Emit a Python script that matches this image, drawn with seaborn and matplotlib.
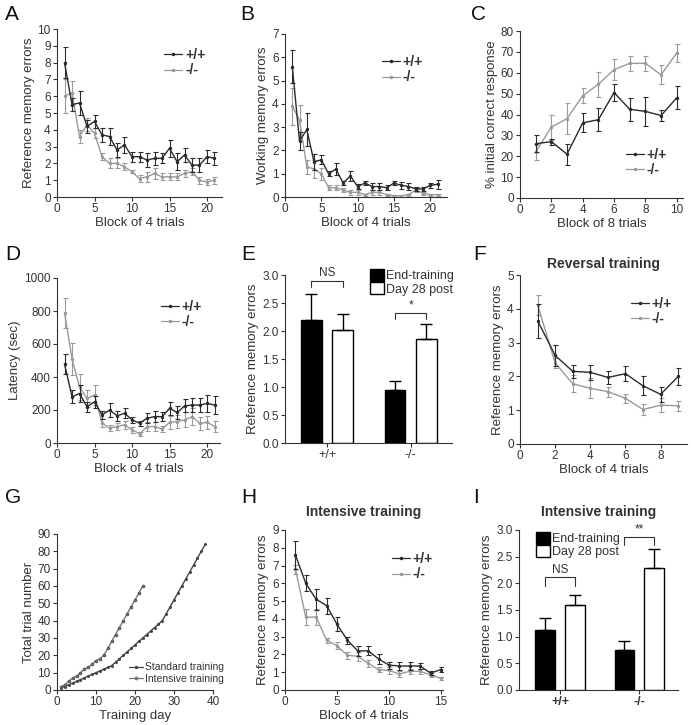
import matplotlib
matplotlib.use("Agg")
import matplotlib.pyplot as plt
import seaborn as sns
import pandas as pd
from matplotlib.patches import Patch
from matplotlib.lines import Line2D

# ---- data ----
blocks21 = list(range(1, 22))
blocks10 = list(range(1, 11))
blocks9 = list(range(1, 10))
blocks15 = list(range(1, 16))

A_wt = [8.0, 5.5, 5.6, 4.2, 4.5, 3.7, 3.6, 2.8, 3.1, 2.4, 2.4, 2.2, 2.3, 2.3, 2.9, 2.1, 2.5, 1.9, 1.9, 2.4, 2.3]
A_wt_err = [0.9, 0.4, 0.7, 0.4, 0.4, 0.4, 0.5, 0.4, 0.5, 0.3, 0.3, 0.4, 0.4, 0.3, 0.5, 0.5, 0.4, 0.4, 0.4, 0.4, 0.4]
A_ko = [6.0, 6.2, 3.6, 4.3, 3.8, 2.4, 2.0, 2.0, 1.8, 1.5, 1.1, 1.2, 1.4, 1.2, 1.2, 1.2, 1.4, 1.5, 1.0, 0.9, 1.0]
A_ko_err = [1.0, 0.7, 0.4, 0.4, 0.3, 0.2, 0.3, 0.3, 0.2, 0.1, 0.2, 0.3, 0.3, 0.2, 0.2, 0.2, 0.2, 0.2, 0.2, 0.2, 0.2]

B_wt = [5.6, 2.4, 2.9, 1.5, 1.6, 1.0, 1.2, 0.6, 0.9, 0.45, 0.6, 0.45, 0.45, 0.4, 0.6, 0.5, 0.45, 0.35, 0.35, 0.5, 0.55]
B_wt_err = [0.7, 0.4, 0.7, 0.35, 0.2, 0.1, 0.25, 0.1, 0.2, 0.1, 0.1, 0.15, 0.15, 0.1, 0.1, 0.15, 0.15, 0.1, 0.1, 0.1, 0.2]
B_ko = [3.9, 3.3, 1.3, 1.2, 1.0, 0.4, 0.4, 0.3, 0.2, 0.2, 0.1, 0.2, 0.2, 0.1, 0.05, 0.05, 0.1, 0.3, 0.15, 0.1, 0.1]
B_ko_err = [0.8, 0.65, 0.3, 0.4, 0.25, 0.1, 0.1, 0.1, 0.1, 0.1, 0.05, 0.1, 0.1, 0.05, 0.03, 0.03, 0.05, 0.1, 0.05, 0.05, 0.05]

C_wt = [26, 27, 21, 36, 37.5, 50.5, 42.5, 41.5, 39.5, 48]
C_wt_err = [4, 1.5, 5, 4.5, 5.5, 4, 5.5, 7, 2.5, 5.5]
C_ko = [22, 34, 38, 49, 54.5, 61.5, 64.5, 64.5, 59, 69.5]
C_ko_err = [4, 6, 7.5, 3.5, 6, 5, 3.5, 3.5, 4.5, 4.5]

D_wt = [480, 280, 300, 220, 250, 170, 200, 165, 180, 140, 120, 150, 160, 160, 210, 185, 225, 230, 230, 240, 230]
D_wt_err = [60, 40, 50, 30, 35, 25, 40, 30, 30, 20, 15, 30, 35, 25, 40, 40, 40, 45, 45, 50, 55]
D_ko = [790, 510, 340, 270, 290, 120, 90, 100, 110, 80, 55, 100, 100, 85, 125, 130, 140, 160, 120, 125, 100]
D_ko_err = [90, 95, 80, 50, 60, 25, 20, 20, 25, 20, 10, 25, 30, 20, 40, 40, 45, 50, 40, 40, 35]

F_wt = [3.65, 2.62, 2.15, 2.12, 1.97, 2.08, 1.72, 1.47, 2.0]
F_wt_err = [0.5, 0.3, 0.2, 0.22, 0.2, 0.22, 0.28, 0.23, 0.25]
F_ko = [4.12, 2.4, 1.78, 1.65, 1.55, 1.35, 1.02, 1.15, 1.13]
F_ko_err = [0.3, 0.15, 0.25, 0.3, 0.15, 0.13, 0.15, 0.2, 0.15]

H_wt = [7.6, 6.0, 5.1, 4.75, 3.7, 2.8, 2.2, 2.2, 1.75, 1.4, 1.35, 1.35, 1.35, 0.95, 1.15]
H_wt_err = [0.8, 0.45, 0.6, 0.45, 0.4, 0.2, 0.3, 0.25, 0.3, 0.2, 0.2, 0.2, 0.15, 0.1, 0.15]
H_ko = [6.8, 4.1, 4.1, 2.8, 2.5, 1.95, 1.9, 1.5, 1.15, 1.1, 0.9, 1.05, 1.05, 0.85, 0.65]
H_ko_err = [0.25, 0.45, 0.45, 0.15, 0.2, 0.2, 0.25, 0.2, 0.15, 0.2, 0.15, 0.15, 0.15, 0.1, 0.1]

G_std_days = list(range(1, 39))
G_std_trials = [1, 2, 3, 4, 5, 6, 7, 8, 9, 10, 11, 12, 13, 14,
                16, 18, 20, 22, 24, 26, 28, 30, 32, 34, 36, 38, 40,
                44, 48, 52, 56, 60, 64, 68, 72, 76, 80, 84]
G_int_days = list(range(1, 23))
G_int_trials = [2, 3, 5, 7, 8, 10, 12, 13, 15, 17, 18, 20,
                24, 28, 32, 36, 40, 44, 48, 52, 56, 60]

genotypes = ["+/+", "-/-"]
timepoints = ["End-training", "Day 28 post"]
E_means = [2.20, 2.02, 0.94, 1.85]    # (+/+ end, +/+ d28, -/- end, -/- d28)
E_err = [0.46, 0.28, 0.17, 0.28]
I_means = [1.13, 1.60, 0.75, 2.28]
I_err = [0.22, 0.18, 0.17, 0.37]

DARK = "#2b2b2b"
GRAY = "#9a9a9a"
TXT = "#333333"

sns.set_style("ticks")
plt.rcParams["font.family"] = ["Liberation Sans", "DejaVu Sans"]
plt.rcParams.update({
    "axes.edgecolor": TXT, "axes.linewidth": 0.8, "text.color": TXT,
    "axes.labelcolor": TXT, "xtick.color": TXT, "ytick.color": TXT,
    "xtick.labelsize": 8.5, "ytick.labelsize": 8.5, "axes.labelsize": 9.5,
    "xtick.major.size": 3, "ytick.major.size": 3,
    "xtick.major.width": 0.8, "ytick.major.width": 0.8,
    "xtick.major.pad": 1.5, "ytick.major.pad": 1.5,
})

fig = plt.figure(figsize=(6.91, 7.25), dpi=100)
W, H = 691.0, 725.0


def add_ax(l, t, r, b):
    return fig.add_axes([l / W, 1 - b / H, (r - l) / W, (b - t) / H])


def style(ax, xlim, xticks, ylim, yticks, xlabel, ylabel, yfmt=None):
    ax.set_xlim(*xlim)
    ax.set_ylim(*ylim)
    ax.set_xticks(xticks)
    ax.set_yticks(yticks)
    if yfmt:
        ax.set_yticklabels([yfmt.format(v) for v in yticks])
    ax.set_xlabel(xlabel, labelpad=1)
    ax.set_ylabel(ylabel, labelpad=2)
    sns.despine(ax=ax)


def line_panel(ax, x, wt, wt_err, ko, ko_err, anchor, loc="upper right"):
    for m, e, c, z in [(ko, ko_err, GRAY, 2), (wt, wt_err, DARK, 3)]:
        ax.errorbar(x, m, yerr=e, fmt="none", ecolor=c, elinewidth=0.8,
                    capsize=1.8, capthick=0.8, zorder=z)
        sns.lineplot(x=x, y=m, ax=ax, color=c, lw=1, marker="o", ms=1.7,
                     mec=c, zorder=z)
    handles = [Line2D([], [], color=DARK, lw=0.9, marker="o", ms=1.5),
               Line2D([], [], color=GRAY, lw=0.9, marker="o", ms=1.5)]
    ax.legend(handles, genotypes, loc=loc, bbox_to_anchor=anchor, frameon=False,
              borderpad=0, borderaxespad=0, handlelength=1.3, handletextpad=0.2,
              labelspacing=0.1, prop={"weight": "bold", "size": 10})


def bar_panel(ax, means, errs, anchor, loc, brackets, tick_bold):
    df = pd.DataFrame({
        "genotype": [genotypes[0], genotypes[0], genotypes[1], genotypes[1]],
        "time": [timepoints[0], timepoints[1], timepoints[0], timepoints[1]],
        "value": means,
    })
    sns.barplot(data=df, x="genotype", y="value", hue="time", order=genotypes,
                hue_order=timepoints, palette=["black", "white"], edgecolor="black",
                linewidth=1, width=0.752, gap=0.34, errorbar=None, legend=False, ax=ax)
    # containers: one per hue level, bars ordered by genotype
    end_bars, post_bars = ax.containers[0], ax.containers[1]
    bars = [end_bars[0], post_bars[0], end_bars[1], post_bars[1]]
    centers = [p.get_x() + p.get_width() / 2 for p in bars]
    for cx, p, e in zip(centers, bars, errs):
        ax.errorbar(cx, p.get_height(), yerr=[[0], [e]], fmt="none", ecolor="black",
                    elinewidth=1, capsize=4.5, capthick=1)
    for (i, j, y, drop, txt) in brackets:
        ax.plot([centers[i], centers[i], centers[j], centers[j]],
                [y - drop, y, y, y - drop], color=TXT, lw=0.8, clip_on=False)
        ax.text((centers[i] + centers[j]) / 2, y + 0.02, txt, ha="center",
                va="bottom", fontsize=8.5)
    handles = [Patch(facecolor="black", edgecolor="black"),
               Patch(facecolor="white", edgecolor="black")]
    ax.legend(handles, timepoints, loc=loc, bbox_to_anchor=anchor, frameon=False,
              borderpad=0, borderaxespad=0, handlelength=1.1, handleheight=1.1,
              handletextpad=0.15, labelspacing=0.0, fontsize=9)
    if tick_bold:
        for t in ax.get_xticklabels():
            t.set_fontweight("bold")
    ax.tick_params(axis="x", labelsize=9)


# ---- A ----
axA = add_ax(57, 29, 222, 197)
line_panel(axA, blocks21, A_wt, A_wt_err, A_ko, A_ko_err, (0.9, 0.887))
style(axA, (0, 22), [0, 5, 10, 15, 20], (0, 10), range(0, 11), "Block of 4 trials",
      "Reference memory errors")

# ---- B ----
axB = add_ax(285, 34, 447, 197)
line_panel(axB, blocks21, B_wt, B_wt_err, B_ko, B_ko_err, (0.852, 0.871))
style(axB, (0, 22.3), [0, 5, 10, 15, 20], (0, 7), range(0, 8), "Block of 4 trials",
      "Working memory errors")

# ---- C ----
axC = add_ax(520, 31, 683, 198)
line_panel(axC, blocks10, C_wt, C_wt_err, C_ko, C_ko_err, (0.902, 0.126), loc="lower right")
style(axC, (0, 10.4), [0, 2, 4, 6, 8, 10], (0, 80), range(0, 81, 10), "Block of 8 trials",
      "% initial correct response")

# ---- D ----
axD = add_ax(57, 278, 220, 443)
line_panel(axD, blocks21, D_wt, D_wt_err, D_ko, D_ko_err, (0.89, 0.867))
style(axD, (0, 21.7), [0, 5, 10, 15, 20], (0, 1000), range(0, 1001, 200), "Block of 4 trials",
      "Latency (sec)")

# ---- E ----
axE = add_ax(285, 275, 452, 443)
bar_panel(axE, E_means, E_err, (1.01, 1.035), "upper right",
          [(0, 1, 2.90, 0.12, "NS"), (2, 3, 2.33, 0.12, "*")], False)
style(axE, (-0.504, 1.496), [0, 1], (0, 3.0), [0, 0.5, 1.0, 1.5, 2.0, 2.5, 3.0], "",
      "Reference memory errors", yfmt="{:.1f}")

# ---- F ----
axF = add_ax(520, 275, 687, 444)
line_panel(axF, blocks9, F_wt, F_wt_err, F_ko, F_ko_err, (0.91, 0.87))
style(axF, (0, 9.5), [0, 2, 4, 6, 8], (0, 5), range(0, 6), "Block of 4 trials",
      "Reference memory errors")
axF.set_title("Reversal training", fontsize=10, fontweight="bold", pad=5)

# ---- G ----
axG = add_ax(57, 534, 213, 690)
sns.lineplot(x=G_std_days, y=G_std_trials, ax=axG, color="#444444", lw=1,
             marker="o", ms=1.4, mec="#444444")
sns.lineplot(x=G_int_days, y=G_int_trials, ax=axG, color="#777777", lw=1,
             marker="o", ms=1.8, mec="#555555")
gh = [Line2D([], [], color="#444444", lw=0.9, marker="o", ms=1.4),
      Line2D([], [], color="#777777", lw=0.9, marker="o", ms=1.7)]
axG.legend(gh, ["Standard training", "Intensive training"], loc="lower right",
           bbox_to_anchor=(1.07, 0.04), frameon=False, borderpad=0, borderaxespad=0,
           handlelength=1.3, handletextpad=0.2, labelspacing=0.15, fontsize=7.5)
style(axG, (0, 40), [0, 10, 20, 30, 40], (0, 90), range(0, 91, 10), "Training day",
      "Total trial number")

# ---- H ----
axH = add_ax(285, 530, 443, 690)
line_panel(axH, blocks15, H_wt, H_wt_err, H_ko, H_ko_err, (0.937, 0.8625))
style(axH, (0, 15.2), [0, 5, 10, 15], (0, 9), range(0, 10), "Block of 4 trials",
      "Reference memory errors")
axH.set_title("Intensive training", fontsize=10, fontweight="bold", pad=10)

# ---- I ----
axI = add_ax(519, 530, 678, 690)
bar_panel(axI, I_means, I_err, (0.107, 0.99), "upper left",
          [(0, 1, 2.11, 0.16, "NS"), (2, 3, 2.87, 0.15, "**")], True)
style(axI, (-0.517, 1.487), [0, 1], (0, 3.0), [0, 0.5, 1.0, 1.5, 2.0, 2.5, 3.0], "",
      "Reference memory errors", yfmt="{:.1f}")
axI.set_title("Intensive training", fontsize=10, fontweight="bold", pad=10)

# panel letters
for letter, px, py in [("A", 5, 5), ("B", 240, 5), ("C", 471, 5),
                       ("D", 5, 245), ("E", 241, 245), ("F", 473, 245),
                       ("G", 5, 488), ("H", 241, 488), ("I", 473, 488)]:
    fig.text(px / W, 1 - py / H, letter, fontsize=15, va="top", ha="left", color="#111111")

fig.savefig("out.png", dpi=100)
